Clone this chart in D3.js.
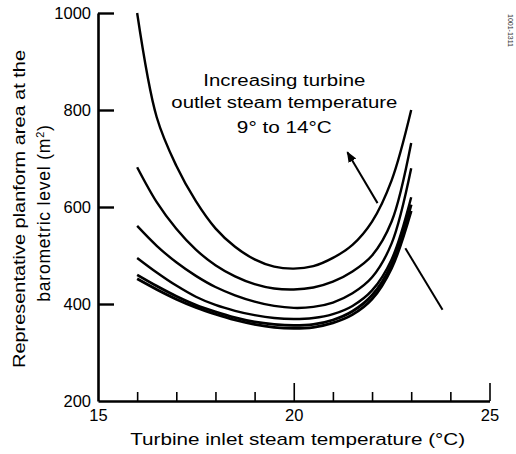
<!DOCTYPE html>
<html>
<head>
<meta charset="utf-8">
<script src="https://cdn.jsdelivr.net/npm/d3@7"></script>
<style>
  body { margin: 0; background: #fff; }
  svg { font-family: "Liberation Sans", Arial, sans-serif; }
</style>
</head>
<body>
<script>
// inlet steam temperature (degC) at which the curves were read
var inletTemps = [16, 16.5, 17, 17.5, 18, 18.5, 19, 19.5, 20, 20.5, 21, 21.5, 22, 22.5, 23];

// planform area (m2), one array per outlet temperature, 9 to 14 degC (top to bottom)
var area9  = [1000, 785, 685, 612, 556, 518, 492, 477, 473, 478, 495, 522, 570, 655, 800];
var area10 = [682, 610, 555, 512, 480, 457, 441, 432, 430, 434, 446, 467, 500, 570, 732];
var area11 = [561, 520, 486, 458, 435, 418, 405, 396, 392, 394, 403, 422, 455, 525, 680];
var area12 = [495, 465, 438, 415, 398, 386, 377, 371, 369, 371, 379, 396, 428, 492, 620];
var area13 = [460, 437, 416, 398, 384, 372, 363, 358, 356, 358, 367, 385, 418, 482, 605];
var area14 = [452, 430, 410, 393, 379, 367, 358, 352, 350, 352, 361, 378, 410, 474, 592];
var seriesList = [area9, area10, area11, area12, area13, area14];

var xTickValues = [15, 16, 17, 18, 19, 20, 21, 22, 23, 24, 25];
var xTickLabels = [15, 20, 25];
var yTickValues = [200, 400, 600, 800, 1000];

var annotationLines = ["Increasing turbine", "outlet steam temperature", "9\u00b0  to 14\u00b0C"];

var width = 516, height = 454;
var svg = d3.select('body').append('svg')
    .attr('width', width)
    .attr('height', height);

// scales
var x = d3.scaleLinear().domain([15, 25]).range([98, 489.5]);
var y = d3.scaleLinear().domain([200, 1000]).range([401, 13]);

// arrow head marker
svg.append('defs').append('marker')
    .attr('id', 'head')
    .attr('viewBox', '0 0 10 10')
    .attr('refX', 9).attr('refY', 5)
    .attr('markerUnits', 'userSpaceOnUse')
    .attr('orient', 'auto')
    .attr('markerWidth', 11).attr('markerHeight', 11)
    .append('path').attr('d', 'M0,1 L10,5 L0,9 Z').attr('fill', '#000');

// x axis, ticks point up into the plot
var xAxis = d3.axisBottom(x)
    .tickValues(xTickValues)
    .tickSizeOuter(0)
    .tickSizeInner(-9)
    .tickPadding(8)
    .tickFormat(function(d){ return xTickLabels.indexOf(d) >= 0 ? d : ''; });
var gx = svg.append('g')
    .attr('transform', 'translate(0,' + y(200) + ')')
    .call(xAxis);
gx.selectAll('.tick line')
    .attr('y2', function(d){ return (d === 20 || d === 25) ? -18 : -9; })
    .attr('stroke-width', 1.6);
gx.select('.tick line').remove();

// y axis, ticks point right
var yAxis = d3.axisLeft(y)
    .tickValues(yTickValues)
    .tickFormat(d3.format('d'))
    .tickSizeOuter(0)
    .tickSizeInner(-16)
    .tickPadding(7);
var gy = svg.append('g')
    .attr('transform', 'translate(' + x(15) + ',0)')
    .call(yAxis);
gy.selectAll('.tick line').attr('stroke-width', 2.4)
    .filter(function(d){ return d === 200; }).remove();

svg.selectAll('.domain').attr('stroke', '#000').attr('stroke-width', 2.6);
svg.selectAll('.tick text')
    .attr('font-size', 16.5)
    .attr('font-family', '"Liberation Sans", Arial, sans-serif')
    .attr('fill', '#000');

// curves
var line = d3.line()
    .x(function(d, i){ return x(inletTemps[i]); })
    .y(function(d){ return y(d); })
    .curve(d3.curveCatmullRom.alpha(0.5));

svg.selectAll('path.curve')
    .data(seriesList)
    .enter().append('path')
    .attr('class', 'curve')
    .attr('d', line)
    .attr('fill', 'none')
    .attr('stroke', '#000')
    .attr('stroke-width', function(d, i){ return i >= 4 ? 2.8 : 2.4; });

// annotation text
svg.append('g').selectAll('text')
    .data(annotationLines)
    .enter().append('text')
    .attr('x', x(19.76))
    .attr('y', function(d, i){ return y([849, 804, 753][i]); })
    .attr('text-anchor', 'middle')
    .attr('font-size', 16)
    .attr('textLength', function(d, i){ return [162, 226, 95][i]; })
    .attr('lengthAdjust', 'spacingAndGlyphs')
    .text(function(d){ return d; });

// arrow pointing to increasing temperature
svg.append('line')
    .attr('x1', x(22.14)).attr('y1', y(608))
    .attr('x2', x(21.37)).attr('y2', y(713))
    .attr('stroke', '#000').attr('stroke-width', 2)
    .attr('marker-end', 'url(#head)');

// leader line to lower curves
svg.append('line')
    .attr('x1', x(22.85)).attr('y1', y(515))
    .attr('x2', x(23.8)).attr('y2', y(388))
    .attr('stroke', '#000').attr('stroke-width', 2);

// axis titles
svg.append('text')
    .attr('x', x(20.1))
    .attr('y', 445)
    .attr('text-anchor', 'middle')
    .attr('font-size', 17)
    .attr('textLength', 335)
    .attr('lengthAdjust', 'spacingAndGlyphs')
    .text('Turbine inlet steam temperature (\u00b0C)');

svg.append('text')
    .attr('transform', 'translate(25,209) rotate(-90)')
    .attr('text-anchor', 'middle')
    .attr('font-size', 17)
    .attr('textLength', 318)
    .attr('lengthAdjust', 'spacingAndGlyphs')
    .text('Representative planform area at the');

var t2 = svg.append('text')
    .attr('transform', 'translate(50,213) rotate(-90)')
    .attr('text-anchor', 'middle')
    .attr('font-size', 17.5)
    .attr('letter-spacing', 0.8);
t2.append('tspan').text('barometric level (m');
t2.append('tspan').attr('font-size', 11).attr('dy', -6).text('2');
t2.append('tspan').attr('dy', 6).text(')');

// small figure id at top right
svg.append('text')
    .attr('transform', 'translate(508,14) rotate(90)')
    .attr('font-size', 7)
    .attr('fill', '#333')
    .text('1001-1311');
</script>
</body>
</html>
